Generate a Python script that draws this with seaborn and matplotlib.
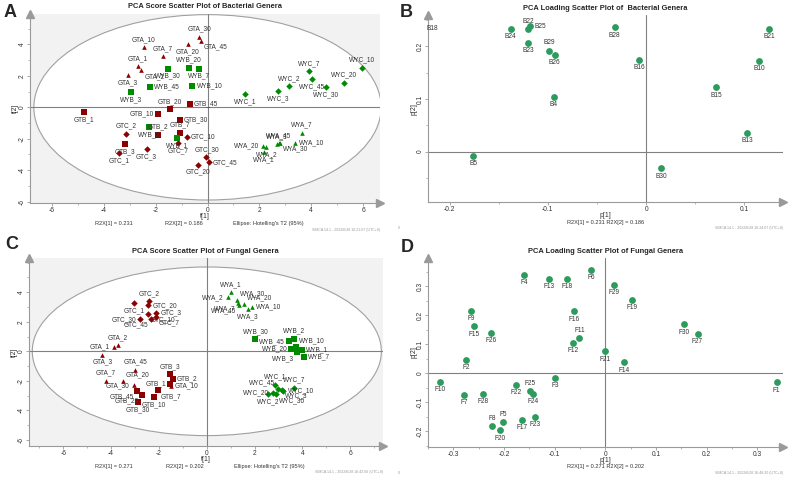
import matplotlib
matplotlib.use("Agg")
import matplotlib.pyplot as plt
from matplotlib.patches import Ellipse
from matplotlib.ticker import MultipleLocator, FixedLocator, FuncFormatter
import seaborn as sns
import pandas as pd

sns.set_style("white")
plt.rcParams['font.family'] = ['Liberation Sans', 'DejaVu Sans']

# ---- data: bacterial scores (panel A) ----
bact_names = ["GTA_1", "GTA_2", "GTA_3", "GTA_7", "GTA_10", "GTA_20", "GTA_30", "GTA_45",
              "GTB_1", "GTB_2", "GTB_3", "GTB_7", "GTB_10", "GTB_20", "GTB_30", "GTB_45",
              "GTC_1", "GTC_2", "GTC_3", "GTC_7", "GTC_10", "GTC_20", "GTC_30", "GTC_45",
              "WYA_1", "WYA_2", "WYA_3", "WYA_7", "WYA_10", "WYA_20", "WYA_30", "WYA_45",
              "WYB_1", "WYB_2", "WYB_3", "WYB_7", "WYB_10", "WYB_20", "WYB_30", "WYB_45",
              "WYC_1", "WYC_2", "WYC_3", "WYC_7", "WYC_10", "WYC_20", "WYC_30", "WYC_45"]
bact_t1 = [-2.70, -2.55, -3.08, -1.73, -2.46, -0.77, -0.31, -0.27,
           -4.77, -1.92, -3.19, -1.08, -1.92, -1.46, -1.08, -0.69,
           -3.42, -3.15, -2.35, -1.12, -0.81, -0.38, -0.04, 0.04,
           2.19, 2.27, 2.69, 3.65, 3.38, 2.15, 2.81, 2.76,
           -1.19, -2.27, -2.96, -0.31, -0.58, -0.73, -1.54, -2.23,
           1.46, 3.15, 2.73, 3.92, 5.96, 5.27, 4.58, 4.04]
bact_t2 = [2.60, 2.35, 2.08, 3.25, 3.83, 4.00, 4.50, 4.25,
           -0.30, -1.75, -2.34, -1.62, -0.40, -0.13, -0.78, 0.22,
           -2.92, -1.69, -2.66, -2.27, -1.88, -3.64, -3.18, -3.50,
           -2.86, -2.53, -2.34, -1.62, -2.27, -2.47, -2.27, -2.30,
           -1.95, -1.23, 0.97, 2.47, 1.36, 2.53, 2.47, 1.30,
           0.84, 1.36, 1.04, 2.30, 2.53, 1.56, 1.30, 1.82]

# ---- data: fungal scores (panel C) ----
fung_names = bact_names
fung_t1 = [-3.89, -3.72, -4.37, -4.23, -1.50, -3.51, -3.06, -2.99,
           -1.53, -1.43, -1.53, -2.04, -2.20, -2.72, -2.87, -2.93,
           -3.05, -2.42, -2.12, -2.12, -2.47, -2.45, -2.79, -2.35,
           1.02, 0.89, 1.71, 1.30, 1.88, 1.57, 1.27, 1.36,
           3.98, 3.65, 3.77, 4.05, 3.75, 3.54, 2.03, 3.45,
           2.84, 2.55, 3.15, 3.66, 3.20, 2.76, 2.90, 2.97]
fung_t2 = [0.29, 0.40, -0.22, -2.00, -2.34, -2.04, -2.31, -1.24,
           -2.20, -1.89, -1.55, -2.63, -3.08, -2.94, -3.46, -2.67,
           3.24, 3.39, 2.61, 2.34, 2.54, 3.10, 2.16, 2.20,
           4.00, 3.64, 2.83, 3.28, 2.99, 3.19, 3.44, 3.15,
           0.11, 0.85, -0.07, -0.38, 0.31, 0.18, 0.81, 0.67,
           -2.25, -2.92, -2.60, -2.45, -2.67, -2.79, -2.90, -2.55]

# ---- data: bacterial loadings (panel B) ----
bload_names = ["B4", "B5", "B10", "B13", "B15", "B16", "B18", "B21",
               "B22", "B23", "B24", "B25", "B26", "B28", "B29", "B30"]
bload_p1 = [-0.094, -0.176, 0.115, 0.103, 0.071, -0.007, -0.228, 0.125,
            -0.120, -0.120, -0.138, -0.118, -0.093, -0.032, -0.099, 0.015]
bload_p2 = [0.104, -0.008, 0.172, 0.035, 0.122, 0.175, 0.234, 0.233,
            0.233, 0.207, 0.233, 0.238, 0.184, 0.236, 0.192, -0.032]

# ---- data: fungal loadings (panel D) ----
fload_names = ["F1", "F2", "F3", "F4", "F5", "F6", "F7", "F8", "F9", "F10",
               "F11", "F12", "F13", "F14", "F15", "F16", "F17", "F18", "F19", "F20",
               "F21", "F22", "F23", "F24", "F25", "F26", "F27", "F28", "F29", "F30"]
fload_p1 = [0.338, -0.275, -0.099, -0.160, -0.202, -0.028, -0.278, -0.223, -0.265, -0.326,
            -0.051, -0.064, -0.111, 0.037, -0.259, -0.062, -0.164, -0.076, 0.052, -0.207,
            0.000, -0.176, -0.138, -0.143, -0.149, -0.225, 0.182, -0.241, 0.018, 0.155]
fload_p2 = [-0.031, 0.046, -0.017, 0.341, -0.169, 0.356, -0.074, -0.183, 0.216, -0.029,
            0.121, 0.104, 0.327, 0.038, 0.162, 0.214, -0.160, 0.325, 0.255, -0.197,
            0.076, -0.040, -0.150, -0.070, -0.061, 0.139, 0.137, -0.070, 0.305, 0.169]

# label placement (style only)
bact_pos = ["t", "br", "b", "t", "t", "b", "t", "br",
            "b", "t", "b", "t", "l", "t", "r", "r",
            "b", "t", "b", "b", "r", "b", "t", "r",
            "b", "b", "t", "t", "r", "l", "br", "t",
            "b", "b", "b", "b", "r", "t", "b", "r",
            "b", "t", "b", "t", "t", "t", "b", "b"]
fung_pos = ["l", "t", "b", "t", "r", "tr", "l", "t",
            "l", "r", "t", "br", "b", "bl", "b", "bl",
            "b", "t", "r", "br", "br", "r", "l", "bl",
            "t", "l", "b", "bl", "r", "tr", "tr", "bl",
            "r", "t", "bl", "r", "tr", "l", "t", "l",
            "t", "b", "br", "t", "r", "l", "br", "tl"]
bload_pos = {"B18": "r", "B22": "t", "B25": "r", "B29": "t"}
fload_pos = {"F11": "t", "F25": "t", "F5": "t", "F8": "t"}

OFFS = {"t": ((0, 3), "center", "bottom"), "b": ((0, -3), "center", "top"),
        "l": ((-3, 0), "right", "center"), "r": ((3, 0), "left", "center"),
        "tr": ((2, 2), "left", "bottom"), "br": ((2, -2), "left", "top"),
        "bl": ((-2, -2), "right", "top"), "tl": ((-2, 2), "right", "bottom")}

RED = "#8b0000"
GREEN = "#008a00"
LOADG = "#2e9b5e"
GREY = "#9a9a9a"
TXT = "#333333"
markers = {"A": "^", "B": "s", "C": "D"}
msize = {"A": 11, "B": 15, "C": 11}

fig = plt.figure(figsize=(7.97, 4.78), dpi=100)
axA = fig.add_axes([0.0376, 0.575, 0.439, 0.396])
axB = fig.add_axes([0.537, 0.577, 0.445, 0.391])
axC = fig.add_axes([0.036, 0.067, 0.444, 0.393])
axD = fig.add_axes([0.537, 0.065, 0.445, 0.395])


def fmt(v, _):
    return "0" if abs(v) < 1e-9 else "%g" % v


def base(ax, xlim, ylim, xmaj, ymaj, xmin, ymin):
    ax.set_xlim(*xlim)
    ax.set_ylim(*ylim)
    for s in ["top", "right"]:
        ax.spines[s].set_visible(False)
    for s in ["left", "bottom"]:
        ax.spines[s].set_color(GREY)
        ax.spines[s].set_linewidth(0.8)
    ax.xaxis.set_major_locator(FixedLocator(xmaj))
    ax.yaxis.set_major_locator(FixedLocator(ymaj))
    ax.xaxis.set_minor_locator(MultipleLocator(xmin))
    ax.yaxis.set_minor_locator(MultipleLocator(ymin))
    ax.xaxis.set_major_formatter(FuncFormatter(fmt))
    ax.yaxis.set_major_formatter(FuncFormatter(fmt))
    ax.tick_params(which="both", direction="out", color=GREY, labelsize=4.8,
                   labelcolor=TXT, pad=0.8, bottom=True, left=True)
    ax.tick_params(which="major", length=2, width=0.6)
    ax.tick_params(which="minor", length=1.3, width=0.5)
    for lab in ax.get_yticklabels():
        lab.set_rotation(90)
        lab.set_va("center")
    ax.axhline(0, color="#808080", lw=0.8, zorder=1)
    ax.axvline(0, color="#808080", lw=0.8, zorder=1)
    ax.plot([0], [1], marker="^", ms=6, color=GREY, transform=ax.transAxes, clip_on=False)
    ax.plot([1], [0], marker=">", ms=6, color=GREY, transform=ax.transAxes, clip_on=False)


def label_points(ax, names, xs, ys, pos, default="b"):
    for i, (n, x, y) in enumerate(zip(names, xs, ys)):
        p = pos[i] if isinstance(pos, list) else pos.get(n, default)
        off, ha, va = OFFS[p]
        ax.annotate(n, (x, y), xytext=off, textcoords="offset points", ha=ha, va=va,
                    fontsize=4.7, color=TXT, annotation_clip=False, zorder=5)


def score_panel(ax, names, t1, t2, pos, ell, xlim, ylim, title, r2x, stamp):
    ax.set_facecolor("#f2f2f2")
    ax.add_patch(Ellipse((0, 0), 2 * ell[0], 2 * ell[1], facecolor="white",
                         edgecolor="#a0a0a0", lw=0.8, zorder=0))
    base(ax, xlim, ylim, [-6, -4, -2, 0, 2, 4, 6], [-6, -4, -2, 0, 2, 4], 1, 1)
    df = pd.DataFrame({"t1": t1, "t2": t2, "name": names})
    df["site"] = df["name"].str[:2]
    df["type"] = df["name"].str[2]
    for (site, typ), g in df.groupby(["site", "type"]):
        sns.scatterplot(data=g, x="t1", y="t2", ax=ax, marker=markers[typ], s=msize[typ],
                        color=RED if site == "GT" else GREEN, linewidth=0, legend=False, zorder=3)
    label_points(ax, names, t1, t2, pos)
    ax.set_xlabel("")
    ax.set_ylabel("t[2]", fontsize=4.8, labelpad=0)
    ax.text(0.5, -0.073, "t[1]", transform=ax.transAxes, ha="center", va="center", fontsize=5, color=TXT)
    ax.text(0.24, -0.108, "R2X[1] = %s" % r2x[0], transform=ax.transAxes, ha="center", va="center", fontsize=4.1, color=TXT)
    ax.text(0.44, -0.108, "R2X[2] = %s" % r2x[1], transform=ax.transAxes, ha="center", va="center", fontsize=4.1, color=TXT)
    ax.text(0.68, -0.108, "Ellipse: Hotelling's T2 (95%)", transform=ax.transAxes, ha="center", va="center", fontsize=4.1, color=TXT)
    ax.text(1.0, -0.13, stamp, transform=ax.transAxes, ha="right", va="top", fontsize=2.6, color="#999999")
    ax.set_title(title, fontsize=5.4, fontweight="bold", pad=4)


def load_panel(ax, names, p1, p2, pos, xlim, ylim, xmaj, ymaj, title, r2x, stamp):
    ax.set_facecolor("white")
    base(ax, xlim, ylim, xmaj, ymaj, 0.05, 0.05)
    df = pd.DataFrame({"p1": p1, "p2": p2})
    sns.scatterplot(data=df, x="p1", y="p2", ax=ax, s=24, color=LOADG, linewidth=0,
                    legend=False, zorder=3)
    label_points(ax, names, p1, p2, pos)
    ax.set_xlabel("")
    ax.set_ylabel("p[2]", fontsize=5, labelpad=0)
    ax.text(0.5, -0.073, "p[1]", transform=ax.transAxes, ha="center", va="center", fontsize=5, color=TXT)
    ax.text(0.5, -0.106, "R2X[1] = %s R2X[2] = %s" % r2x, transform=ax.transAxes,
            ha="center", va="center", fontsize=4.1, color=TXT)
    ax.text(1.0, -0.13, stamp, transform=ax.transAxes, ha="right", va="top", fontsize=2.6, color="#999999")
    ax.text(-0.085, -0.13, "0", transform=ax.transAxes, ha="left", va="top", fontsize=2.6, color="#999999")
    ax.set_title(title, fontsize=5.4, fontweight="bold", pad=4)


score_panel(axA, bact_names, bact_t1, bact_t2, bact_pos, (6.7, 5.9),
            (-6.85, 6.65), (-6.1, 5.95), "PCA Score Scatter Plot of Bacterial Genera",
            ("0.231", "0.186"), "SIMCA 14.1 - 2022/6/28 16:21:07 (UTC+8)")
score_panel(axC, fung_names, fung_t1, fung_t2, fung_pos, (7.3, 5.7),
            (-7.45, 7.35), (-6.4, 6.3), "PCA Score Scatter Plot of Fungal Genera",
            ("0.271", "0.202"), "SIMCA 14.1 - 2022/6/28 16:42:56 (UTC+8)")
load_panel(axB, bload_names, bload_p1, bload_p2, bload_pos, (-0.222, 0.139), (-0.096, 0.259),
           [-0.2, -0.1, 0, 0.1], [0, 0.1, 0.2], "PCA Loading Scatter Plot of  Bacterial Genera",
           ("0.231", "0.186"), "SIMCA 14.1 - 2022/6/28 16:24:07 (UTC+8)")
load_panel(axD, fload_names, fload_p1, fload_p2, fload_pos, (-0.35, 0.35), (-0.254, 0.398),
           [-0.3, -0.2, -0.1, 0, 0.1, 0.2, 0.3], [-0.2, -0.1, 0, 0.1, 0.2, 0.3],
           "PCA Loading Scatter Plot of Fungal Genera",
           ("0.271", "0.202"), "SIMCA 14.1 - 2022/6/28 16:48:20 (UTC+8)")

# panel letters
for letter, x, y in [("A", 0.004, 0.974), ("B", 0.501, 0.973), ("C", 0.006, 0.489), ("D", 0.503, 0.483)]:
    fig.text(x, y, letter, ha="left", va="center", fontsize=13, fontweight="bold")

fig.savefig("out.png", dpi=100)
